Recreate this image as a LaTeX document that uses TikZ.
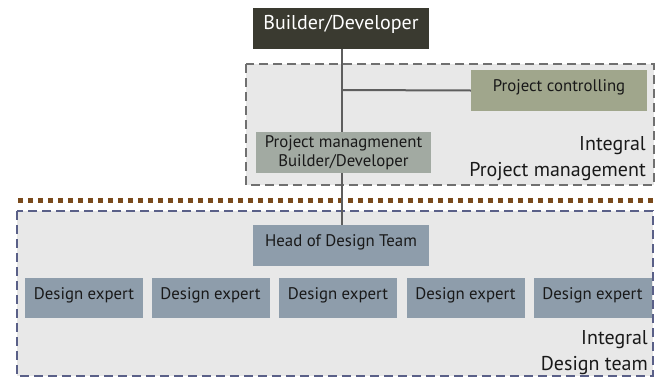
\documentclass[tikz,border=0pt]{standalone}
\usepackage{fontspec}
\setmainfont{PT Sans}
\begin{document}
\begin{tikzpicture}[x=1pt,y=-1pt,
  box/.style={draw=none,inner sep=0pt,align=center,font=\fontsize{16.8}{19}\selectfont,text=black!90},
  lifted/.style={text height=12pt,text depth=10pt},
  bluebox/.style={box,lifted,fill=boxblue},
  frame/.style={line width=2.4pt,dash pattern=on 9pt off 5pt},
  link/.style={draw=linkgray,line width=2pt},
  tag/.style={anchor=east,inner sep=0pt,align=right,font=\fontsize{20}{26}\selectfont,text=black!90}]
\definecolor{boxblue}{HTML}{8E9DAB}
\definecolor{linkgray}{HTML}{5E5E5E}
\definecolor{framegray}{HTML}{707070}
\definecolor{frameblue}{HTML}{5A6088}
\definecolor{panel}{HTML}{E8E8E8}
\definecolor{dotbrown}{HTML}{7A4A1C}
\definecolor{topdark}{HTML}{3A3A30}
\definecolor{ctrlolive}{HTML}{A0A68C}
\definecolor{mgmtgray}{HTML}{A2AAA2}
\useasboundingbox (0,0) rectangle (664,378);
\fill[white] (0,0) rectangle (664,378);

% integral project management panel
\draw[frame,draw=framegray,fill=panel] (246,64) rectangle (654,185);
% integral design team panel
\draw[frame,draw=frameblue,fill=panel] (17,211) rectangle (653,376);
% separating dotted line
\draw[dotbrown,line width=5pt,dash pattern=on 5pt off 5pt] (18,200) -- (656,200);

% nodes
\node[box,lifted,fill=topdark,text=white,minimum width=176pt,minimum height=41pt,font=\fontsize{20}{22}\selectfont,text height=14pt,text depth=12pt] (bd) at (341,28.5) {Builder/Developer};
\node[box,lifted,fill=ctrlolive,minimum width=176pt,minimum height=41pt] (pc) at (559,90.5) {Project controlling};
\node[box,fill=mgmtgray,minimum width=175pt,minimum height=41pt] (pm) at (343.5,152.5) {Project managmenent\\Builder/Developer};
\node[bluebox,minimum width=176pt,minimum height=41pt] (head) at (341,245.5) {Head of Design Team};
\foreach \i/\x in {1/84,2/210.5,3/338,4/465.5,5/592.5}
  \node[bluebox,minimum width=118pt,minimum height=40pt] (de\i) at (\x,298) {Design expert};

% connectors: the trunk runs behind the management box
\coordinate (tee) at (342,90);
\draw[link] (bd.south -| tee) -- (tee |- pm.north);
\draw[link] (pm.south -| tee) -- (tee |- head.north);
\draw[link] (tee) -- (pc.west);

% panel captions
\node[tag] (t1) at (646,159) {Integral\\Project management};
\node[tag] (t2) at (648,353) {Integral\\Design team};
\end{tikzpicture}
\end{document}
